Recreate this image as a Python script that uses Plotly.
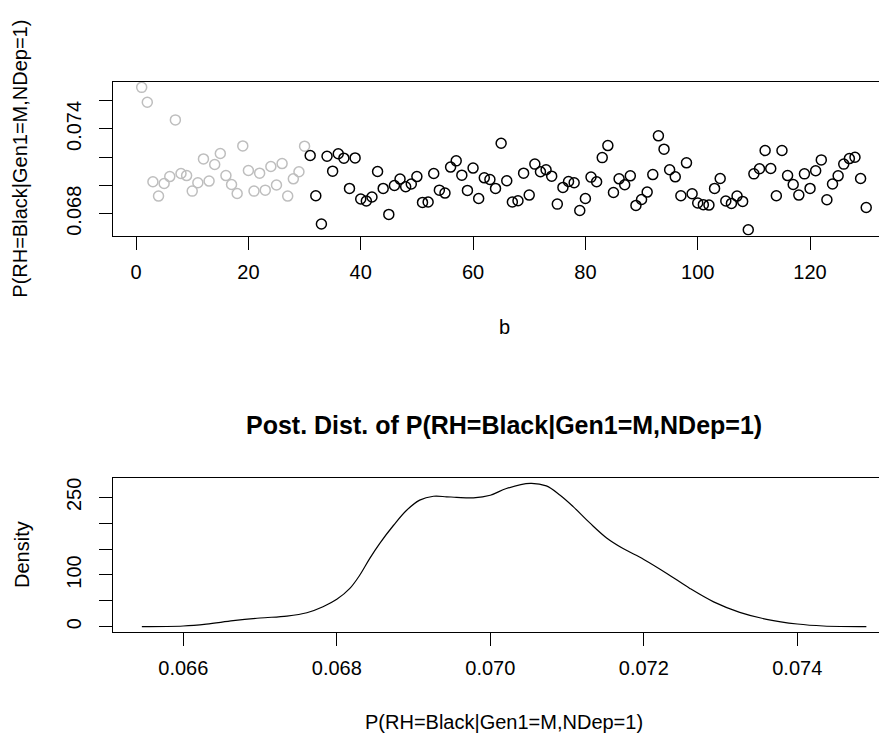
import plotly.graph_objects as go

# trace plot of the posterior draws (first 30 = burn-in, drawn grey)
b = list(range(1, 131))
p_draws = [
    0.07694, 0.07589, 0.07026, 0.06925, 0.07014, 0.07063, 0.07464, 0.07085, 0.07070, 0.06960,
    0.07019, 0.07188, 0.07031, 0.07148, 0.07226, 0.07070, 0.07007, 0.06943, 0.07280, 0.07106,
    0.06960, 0.07087, 0.06967, 0.07134, 0.07003, 0.07155, 0.06925, 0.07047, 0.07097, 0.07278,
    0.07212, 0.06927, 0.06727, 0.07207, 0.07101, 0.07224, 0.07193, 0.06979, 0.07195, 0.06904,
    0.06890, 0.06918, 0.07099, 0.06979, 0.06795, 0.07000, 0.07045, 0.06991, 0.07010, 0.07063,
    0.06880, 0.06883, 0.07085, 0.06967, 0.06946, 0.07130, 0.07174, 0.07073, 0.06965, 0.07123,
    0.06908, 0.07054, 0.07042, 0.06979, 0.07299, 0.07033, 0.06883, 0.06892, 0.07087, 0.06932,
    0.07151, 0.07097, 0.07111, 0.07066, 0.06868, 0.06986, 0.07028, 0.07019, 0.06823, 0.06908,
    0.07059, 0.07026, 0.07197, 0.07282, 0.06950, 0.07047, 0.07005, 0.07068, 0.06859, 0.06901,
    0.06953, 0.07077, 0.07351, 0.07257, 0.07111, 0.07061, 0.06927, 0.07160, 0.06941, 0.06876,
    0.06864, 0.06861, 0.06979, 0.07049, 0.06890, 0.06873, 0.06925, 0.06887, 0.06687, 0.07082,
    0.07118, 0.07247, 0.07120, 0.06927, 0.07247, 0.07070, 0.07007, 0.06932, 0.07082, 0.06979,
    0.07104, 0.07181, 0.06899, 0.07010, 0.07068, 0.07151, 0.07190, 0.07200, 0.07049, 0.06844,
]
burn_in = 30

# kernel density of the kept draws
dens_x = [
    0.06546, 0.06600, 0.06630, 0.06665, 0.06700, 0.06735, 0.06761, 0.06782, 0.06800, 0.06817,
    0.06830, 0.06843, 0.06856, 0.06874, 0.06891, 0.06908, 0.06926, 0.06943, 0.06956, 0.06978,
    0.07000, 0.07021, 0.07052, 0.07073, 0.07091, 0.07108, 0.07130, 0.07152, 0.07173, 0.07200,
    0.07230, 0.07260, 0.07291, 0.07325, 0.07360, 0.07400, 0.07434, 0.07490,
]
dens_y = [
    0, 1.4, 5, 11.6, 16.8, 20.6, 27, 38.6, 52.9, 74,
    99.8, 132, 161, 196, 225, 244.6, 252, 251, 250, 249,
    254, 267, 277, 272, 254, 232, 200, 171, 151, 130,
    103, 74, 48, 27.8, 14.3, 5.2, 1.4, 0,
]

y_ticks_top = [0.068, 0.070, 0.072, 0.074, 0.076]
y_text_top = ["0.068", "", "", "0.074", ""]
x_ticks_top = [0, 20, 40, 60, 80, 100, 120]
x_ticks_bot = [0.066, 0.068, 0.070, 0.072, 0.074]
y_ticks_bot = [0, 50, 100, 150, 200, 250]
y_text_bot = ["0", "", "100", "", "", "250"]

# the page body has an 8px margin, so the figure is drawn from (8, 8)
OFF = 8
W, H = 887 - OFF, 738 - OFF
FONT = "Liberation Sans, Arial, Helvetica, sans-serif"


def px(v):
    return (v - OFF) / W


def py(v):
    return 1 - (v - OFF) / H


fig = go.Figure()

fig.add_trace(go.Scatter(
    x=b[:burn_in], y=p_draws[:burn_in], mode="markers",
    marker=dict(symbol="circle-open", size=10, color="#bebebe", line=dict(width=1.5)),
    xaxis="x", yaxis="y", showlegend=False,
))
fig.add_trace(go.Scatter(
    x=b[burn_in:], y=p_draws[burn_in:], mode="markers",
    marker=dict(symbol="circle-open", size=10, color="black", line=dict(width=1.5)),
    xaxis="x", yaxis="y", showlegend=False,
))
fig.add_trace(go.Scatter(
    x=dens_x, y=dens_y, mode="lines",
    line=dict(color="black", width=1.2, shape="spline"),
    xaxis="x2", yaxis="y2", showlegend=False,
))

axis_common = dict(
    showgrid=False, zeroline=False, showline=True, linecolor="black", linewidth=1,
    ticks="outside", ticklen=13, tickwidth=1, tickcolor="black",
    tickfont=dict(family=FONT, size=20, color="black"),
)

fig.update_layout(
    width=W, height=H,
    margin=dict(l=0, r=0, t=0, b=0),
    paper_bgcolor="white", plot_bgcolor="white",
    xaxis=dict(domain=[px(112.7), 1], range=[-4.16, 133.7], anchor="y",
               tickvals=x_ticks_top, mirror=True, ticklabelstandoff=5, **axis_common),
    yaxis=dict(domain=[py(235.5), py(82)], range=[0.06646, 0.07732], anchor="x",
               tickvals=y_ticks_top, ticktext=y_text_top, tickangle=-90,
               ticklabelstandoff=10, **axis_common),
    xaxis2=dict(domain=[px(112.7), 1], range=[0.06508, 0.075169], anchor="y2",
                tickvals=x_ticks_bot, tickformat=".3f", mirror=True,
                ticklabelstandoff=5, **axis_common),
    yaxis2=dict(domain=[py(631.7), py(478.3)], range=[-9.66, 286.7], anchor="x2",
                tickvals=y_ticks_bot, ticktext=y_text_bot, tickangle=-90,
                ticklabelstandoff=10, **axis_common),
)

label_font = dict(family=FONT, size=20, color="black")
fig.add_annotation(text="b", x=px(504), y=py(327), xref="paper", yref="paper",
                   showarrow=False, xanchor="center", yanchor="middle", font=label_font)
fig.add_annotation(text="P(RH=Black|Gen1=M,NDep=1)", x=px(20), y=py(158.7),
                   xref="paper", yref="paper", textangle=-90, showarrow=False,
                   xanchor="center", yanchor="middle", font=label_font)
fig.add_annotation(text="<b>Post. Dist. of P(RH=Black|Gen1=M,NDep=1)</b>", x=px(504), y=py(425),
                   xref="paper", yref="paper", showarrow=False,
                   xanchor="center", yanchor="middle",
                   font=dict(family=FONT, size=25, color="black"))
fig.add_annotation(text="Density", x=px(22), y=py(555), xref="paper", yref="paper",
                   textangle=-90, showarrow=False, xanchor="center", yanchor="middle",
                   font=label_font)
fig.add_annotation(text="P(RH=Black|Gen1=M,NDep=1)", x=px(504), y=py(722),
                   xref="paper", yref="paper", showarrow=False,
                   xanchor="center", yanchor="middle", font=label_font)

fig.write_html("out.html")
